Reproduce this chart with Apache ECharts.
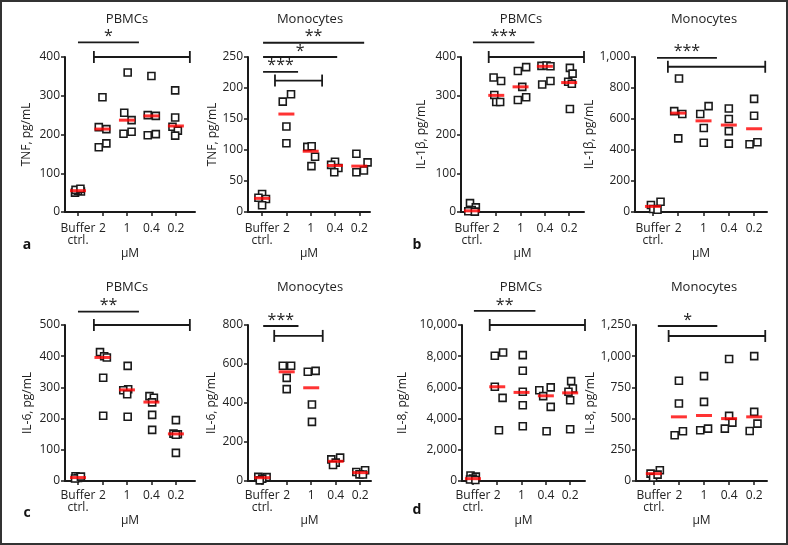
<!DOCTYPE html>
<html>
<head>
<meta charset="utf-8">
<script src="https://cdn.jsdelivr.net/npm/echarts@6/dist/echarts.min.js"></script>
<style>
  html, body { margin: 0; padding: 0; background: #fff; }
  #main { width: 788px; height: 545px; }
</style>
</head>
<body>
<div id="main"></div>
<script>
// x categories
const doses = ['Buffer\nctrl.', '2', '1', '0.4', '0.2'];

// values per category (pg/mL), jitter in category units, medians (red bars)
const tnfPbmc = [[50, 53, 55, 57, 60], [296, 219, 214, 167, 177], [360, 256, 237, 202, 207], [351, 250, 248, 198, 201], [314, 244, 220, 210, 197]];
const tnfPbmcJitter = [[-0.12, 0.12, 0, -0.1, 0.1], [0, -0.15, 0.16, -0.15, 0.16], [0.03, -0.11, 0.19, -0.14, 0.19], [0, -0.15, 0.18, -0.15, 0.18], [-0.03, -0.03, -0.14, 0.08, -0.03]];
const tnfPbmcMedian = [55, 214, 237, 248, 222];

const tnfMono = [[29, 23, 21, 11], [178, 190, 138, 111], [105, 106, 89, 74], [81, 76, 71, 64], [94, 80, 64, 67]];
const tnfMonoJitter = [[0, -0.15, 0.16, 0], [-0.15, 0.19, 0, 0], [-0.14, 0.04, 0.18, 0.03], [0, -0.16, 0.14, -0.03], [-0.12, 0.34, -0.12, 0.19]];
const tnfMonoMedian = [22, 158, 98, 75, 74];

const il1bPbmc = [[23, 12, 5, 2, 1], [347, 338, 302, 284, 284], [364, 374, 323, 289, 296], [377, 378, 376, 329, 338], [372, 357, 336, 331, 266]];
const il1bPbmcJitter = [[-0.08, 0.16, -0.01, -0.15, 0.12], [-0.11, 0.2, -0.08, 0, 0.16], [-0.11, 0.23, 0.07, -0.11, 0.23], [-0.14, 0.07, 0.23, -0.11, 0.23], [0.03, 0.14, -0.04, 0.11, 0.03]];
const il1bPbmcMedian = [3, 301, 323, 376, 334];

const il1bMono = [[45, 66, 19, 15], [861, 651, 632, 475], [632, 683, 542, 447], [668, 600, 522, 441], [730, 621, 437, 450]];
const il1bMonoJitter = [[-0.08, 0.3, 0.01, 0.18], [0.03, -0.16, 0.16, 0], [-0.13, 0.2, 0.01, 0.01], [0, 0, 0, 0], [0, 0, -0.18, 0.13]];
const il1bMonoMedian = [36, 638, 588, 561, 537];

const il6Pbmc = [[15, 12, 10, 8, 14], [413, 400, 396, 331, 209], [369, 294, 291, 278, 206], [272, 267, 252, 212, 164], [195, 152, 150, 148, 90]];
const il6PbmcJitter = [[-0.1, 0.1, 0, -0.12, 0.12], [-0.1, 0.07, 0.18, 0.03, 0.03], [0.03, 0.05, -0.15, 0.01, 0.03], [-0.08, 0.1, 0.03, 0.03, 0.03], [0, -0.1, 0.08, 0, 0]];
const il6PbmcMedian = [11, 396, 292, 253, 151];

const il6Mono = [[21, 20, 12, 3], [591, 591, 529, 471], [560, 565, 392, 303], [111, 120, 94, 82], [46, 55, 34, 33]];
const il6MonoJitter = [[-0.16, 0.18, 0, -0.1], [-0.16, 0.18, 0, 0], [-0.14, 0.18, 0.03, 0.03], [-0.18, 0.18, 0, -0.11], [-0.16, 0.2, -0.03, 0.11]];
const il6MonoMedian = [17, 560, 478, 101, 43];

const il8Pbmc = [[350, 280, 150, 100, 60], [8030, 8240, 6040, 5330, 3250], [8070, 7070, 5720, 4860, 3510], [5820, 5440, 6000, 4750, 3190], [6400, 5930, 5720, 5180, 3320]];
const il8PbmcJitter = [[-0.1, 0.12, 0, -0.12, 0.1], [-0.1, 0.24, -0.1, 0.22, 0.07], [0.05, 0.05, 0.05, 0.05, 0.05], [-0.27, -0.11, 0.2, 0.2, 0.03], [0.04, 0.11, -0.07, 0, 0]];
const il8PbmcMedian = [150, 6040, 5680, 5460, 5650];

const il8Mono = [[59, 86, 27, 51], [803, 621, 367, 399], [840, 634, 407, 420], [977, 522, 420, 468], [1001, 554, 401, 460]];
const il8MonoJitter = [[-0.13, 0.24, -0.03, 0.15], [0, 0, -0.17, 0.16], [0, 0, -0.15, 0.16], [0, 0, -0.17, 0.13], [0, 0, -0.18, 0.13]];
const il8MonoMedian = [59, 514, 525, 500, 514];

// significance lines: [from x, to x, y value, end caps, label]
const tnfPbmcSig = [[0, 2.49, 438, 0, '*'], [0.65, 4.57, 400, 1, '']];
const tnfMonoSig = [[0.04, 4.2, 273, 0, '**'], [0.04, 3.09, 250, 0, '*'], [0.04, 1.48, 226, 0, '***'], [0.53, 2.47, 212, 1, '']];
const il1bPbmcSig = [[0.04, 2.57, 438, 0, '***'], [0.69, 4.61, 400, 1, '']];
const il1bMonoSig = [[0.16, 2.53, 995, 0, '***'], [0.59, 4.44, 937, 1, '']];
const il6PbmcSig = [[0, 2.49, 543, 0, '**'], [0.65, 4.57, 500, 1, '']];
const il6MonoSig = [[0.04, 1.48, 795, 0, '***'], [0.49, 2.47, 744, 1, '']];
const il8PbmcSig = [[0.04, 2.57, 10900, 0, '**'], [0.69, 4.61, 10000, 1, '']];
const il8MonoSig = [[0.16, 2.53, 1242, 0, '*'], [0.59, 4.44, 1162, 1, '']];

const FONT = '"Open Sans", "Noto Sans", sans-serif';
const INK = '#1a1a1a';
const TXT = '#222';

const panels = [
  { title: 'PBMCs', yName: 'TNF, pg/mL', vals: tnfPbmc, jit: tnfPbmcJitter, med: tnfPbmcMedian, sig: tnfPbmcSig, yMax: 400, yStep: 100, box: [65, 57, 130, 155], xr: [-0.53, 4.78], gap: 32, row: 0 },
  { title: 'Monocytes', yName: 'TNF, pg/mL', vals: tnfMono, jit: tnfMonoJitter, med: tnfMonoMedian, sig: tnfMonoSig, yMax: 250, yStep: 50, box: [248, 57, 122, 155], xr: [-0.58, 4.44], gap: 29, row: 0 },
  { title: 'PBMCs', yName: 'IL-1β, pg/mL', vals: il1bPbmc, jit: il1bPbmcJitter, med: il1bPbmcMedian, sig: il1bPbmcSig, yMax: 400, yStep: 100, box: [461, 57, 123, 155], xr: [-0.45, 4.61], gap: 33, row: 0 },
  { title: 'Monocytes', yName: 'IL-1β, pg/mL', vals: il1bMono, jit: il1bMonoJitter, med: il1bMonoMedian, sig: il1bMonoSig, yMax: 1000, yStep: 200, box: [635, 57, 132, 155], xr: [-0.71, 4.51], gap: 31, row: 0 },
  { title: 'PBMCs', yName: 'IL-6, pg/mL', vals: il6Pbmc, jit: il6PbmcJitter, med: il6PbmcMedian, sig: il6PbmcSig, yMax: 500, yStep: 100, box: [65, 325, 130, 156], xr: [-0.53, 4.78], gap: 31, row: 1 },
  { title: 'Monocytes', yName: 'IL-6, pg/mL', vals: il6Mono, jit: il6MonoJitter, med: il6MonoMedian, sig: il6MonoSig, yMax: 800, yStep: 200, box: [248, 325, 123, 156], xr: [-0.58, 4.44], gap: 30, row: 1 },
  { title: 'PBMCs', yName: 'IL-8, pg/mL', vals: il8Pbmc, jit: il8PbmcJitter, med: il8PbmcMedian, sig: il8PbmcSig, yMax: 10000, yStep: 2000, box: [462, 325, 123, 156], xr: [-0.45, 4.61], gap: 53, row: 1 },
  { title: 'Monocytes', yName: 'IL-8, pg/mL', vals: il8Mono, jit: il8MonoJitter, med: il8MonoMedian, sig: il8MonoSig, yMax: 1250, yStep: 250, box: [636, 325, 131, 156], xr: [-0.71, 4.51], gap: 35, row: 1 }
];

const titlePos = [[127, 19], [310, 19], [521, 19], [704, 19], [127, 287], [310, 287], [521, 287], [704, 287]];
const letters = [['a', 27, 245], ['b', 417, 245], ['c', 27, 513], ['d', 417, 510]];

const grid = [], xAxis = [], yAxis = [], series = [];

panels.forEach((p, i) => {
  grid.push({ left: p.box[0], top: p.box[1], width: p.box[2], height: p.box[3] });

  xAxis.push({
    type: 'value', gridIndex: i, min: p.xr[0], max: p.xr[1],
    name: 'µM', nameLocation: 'middle', nameGap: p.row ? 22 : 27,
    nameTextStyle: { fontSize: 12, color: TXT, fontFamily: FONT },
    axisLine: { show: true, onZero: false, lineStyle: { color: INK, width: 2 } },
    axisTick: { show: true, customValues: [0, 1, 2, 3, 4], length: 4, lineStyle: { color: INK, width: 1.5 } },
    axisLabel: {
      customValues: [0, 1, 2, 3, 4], formatter: v => doses[Math.round(v)],
      margin: p.row ? 8 : 10, fontSize: 12, lineHeight: 12.5, color: TXT, fontFamily: FONT
    },
    splitLine: { show: false }
  });

  yAxis.push({
    type: 'value', gridIndex: i, min: 0, max: p.yMax, interval: p.yStep,
    name: p.yName, nameLocation: 'middle', nameGap: p.gap,
    nameTextStyle: { fontSize: 12, color: TXT, fontFamily: FONT },
    axisLine: { show: true, onZero: false, lineStyle: { color: INK, width: 2 } },
    axisTick: { show: true, length: 4, lineStyle: { color: INK, width: 1.5 } },
    axisLabel: { formatter: v => v.toLocaleString('en-US'), margin: 5, fontSize: 12, color: TXT, fontFamily: FONT },
    splitLine: { show: false }
  });

  const pts = [];
  p.vals.forEach((list, c) => list.forEach((v, k) => pts.push([c + p.jit[c][k], v])));

  series.push({
    type: 'scatter', xAxisIndex: i, yAxisIndex: i, data: pts,
    symbol: 'rect', symbolSize: 7, clip: false, silent: true, z: 2,
    itemStyle: { color: '#fff', borderColor: INK, borderWidth: 1.6, opacity: 1 }
  });

  series.push({
    type: 'scatter', xAxisIndex: i, yAxisIndex: i,
    data: p.med.map((m, c) => [c, m]),
    symbol: 'rect', symbolSize: [16, 3], clip: false, silent: true, z: 3,
    itemStyle: { color: '#ff0000' }
  });

  series.push({
    type: 'custom', xAxisIndex: i, yAxisIndex: i, silent: true, z: 4,
    data: p.sig.map(r => [r[0], r[1], r[2], r[3]]),
    encode: { x: [0, 1], y: 2 },
    renderItem: (params, api) => {
      const r = p.sig[params.dataIndex];
      const a = api.coord([r[0], r[2]]);
      const b = api.coord([r[1], r[2]]);
      const st = { stroke: INK, lineWidth: 1.8 };
      const kids = [{ type: 'line', shape: { x1: a[0], y1: a[1], x2: b[0], y2: b[1] }, style: st }];
      if (r[3]) {
        kids.push({ type: 'line', shape: { x1: a[0], y1: a[1] - 6, x2: a[0], y2: a[1] + 6 }, style: st });
        kids.push({ type: 'line', shape: { x1: b[0], y1: b[1] - 6, x2: b[0], y2: b[1] + 6 }, style: st });
      }
      if (r[4]) {
        kids.push({
          type: 'text', x: (a[0] + b[0]) / 2, y: a[1] + 2,
          style: { text: r[4], fill: TXT, font: '16px ' + FONT, align: 'center', verticalAlign: 'bottom' }
        });
      }
      return { type: 'group', children: kids };
    }
  });
});

const graphic = [
  { type: 'rect', shape: { x: 1, y: 1, width: 786, height: 543 }, style: { fill: 'none', stroke: '#333', lineWidth: 2 }, silent: true }
];
panels.forEach((p, i) => {
  graphic.push({
    type: 'text', x: titlePos[i][0], y: titlePos[i][1],
    style: { text: p.title, fill: TXT, font: '13px ' + FONT, align: 'center', verticalAlign: 'middle' }
  });
});
letters.forEach(l => {
  graphic.push({
    type: 'text', x: l[1], y: l[2],
    style: { text: l[0], fill: '#111', font: 'bold 14px ' + FONT, align: 'center', verticalAlign: 'middle' }
  });
});

const chart = echarts.init(document.getElementById('main'), null, { renderer: 'canvas' });
chart.setOption({
  animation: false,
  backgroundColor: '#fff',
  grid, xAxis, yAxis, series, graphic
});
</script>
</body>
</html>
